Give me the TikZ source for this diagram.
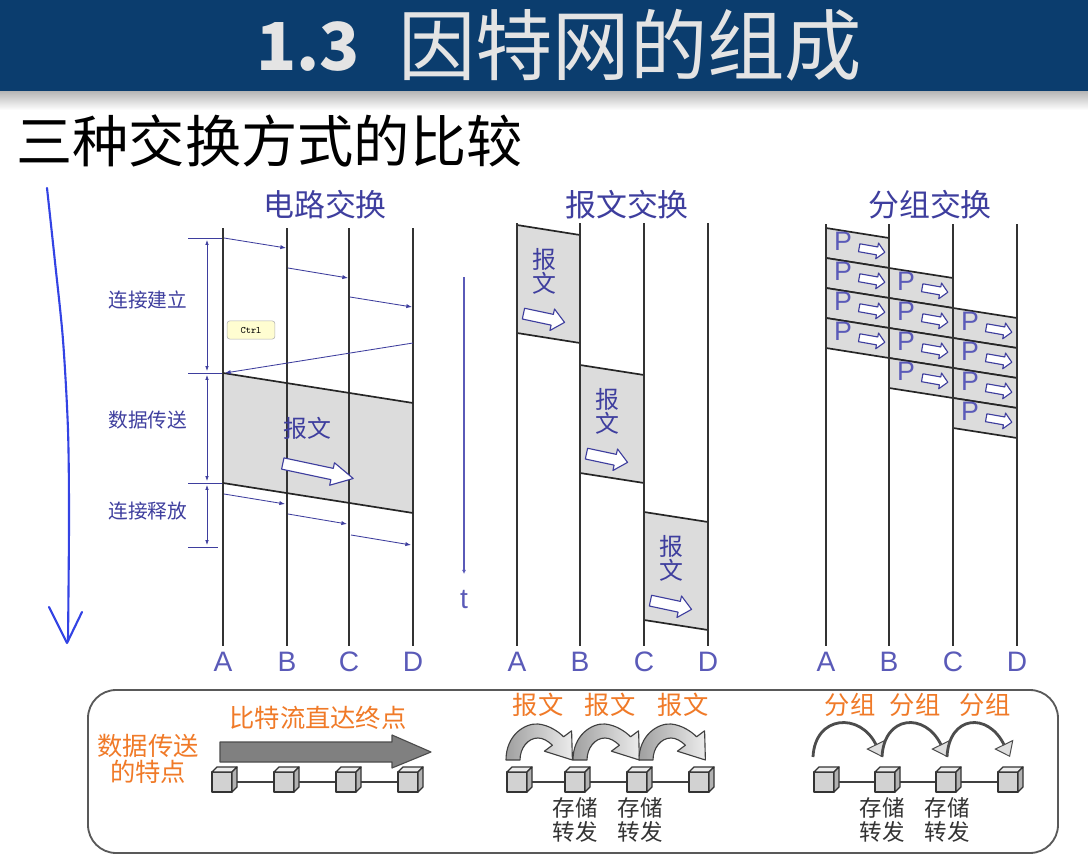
\documentclass[tikz,border=0pt]{standalone}
\usepackage{fontspec}
\setmainfont{Noto Sans CJK SC}
\newfontfamily\latinsf{Liberation Sans}
\usetikzlibrary{arrows.meta}

\definecolor{titleblue}{HTML}{0B3D6E}
\definecolor{titlegray}{HTML}{E4E4E4}
\definecolor{labelblue}{HTML}{3E3E9E}
\definecolor{letterblue}{HTML}{5A5AB8}
\definecolor{penblue}{HTML}{3343E4}
\definecolor{noteorange}{HTML}{F07A28}
\definecolor{boxgray}{HTML}{DCDCDC}

\tikzset{
  titletext/.style={text=titlegray, inner sep=0pt, font=\fontsize{55}{60}\selectfont},
  subtitle/.style={text=black, inner sep=0pt, font=\fontsize{40}{44}\selectfont},
  headline/.style={text=labelblue, font=\fontsize{22}{26}\selectfont},
  sidelabel/.style={text=labelblue, font=\fontsize{14}{17}\selectfont},
  letter/.style={text=letterblue, font=\latinsf\fontsize{20}{24}\selectfont},
  msgchar/.style={text=labelblue, align=center, font=\fontsize{17}{17}\selectfont},
  pletter/.style={text=letterblue, inner sep=0pt, font=\latinsf\fontsize{19}{20}\selectfont},
  note/.style={text=noteorange, align=center, font=\fontsize{18}{19}\selectfont},
  storelabel/.style={text=black!80, align=center, font=\fontsize{16}{17}\selectfont},
  timeline/.style={draw=black!80, line width=1.1pt},
  boxedge/.style={draw=black!85, line width=1.2pt},
  signal/.style={draw=labelblue, line width=0.6pt, -{Latex[length=4pt,width=3pt]}},
  dimline/.style={draw=labelblue, line width=0.5pt},
  dimarrow/.style={dimline, {Latex[length=3.5pt,width=2.5pt]}-{Latex[length=3.5pt,width=2.5pt]}},
  ctrlbox/.style={draw=gray!60, fill=yellow!18, rounded corners=2pt, minimum width=34pt,
    minimum height=13pt, inner sep=1pt, font=\ttfamily\fontsize{7}{8}\selectfont},
  cubelink/.style={draw=black!75, line width=0.9pt},
  pktarc/.style={draw=black!70, line width=2pt,
    -{Triangle[length=10pt,width=15pt,fill=gray!25,line width=0.7pt]}},
  harrow/.pic={
    \draw[draw=labelblue, fill=white, line width=0.8pt, line join=round]
      (-1,-0.5) -- (0.4,-0.5) -- (0.4,-1) -- (1,0) -- (0.4,1) -- (0.4,0.5) -- (-1,0.5) -- cycle;
  },
  cube/.pic={
    \draw[draw=black!80, line width=0.9pt, line join=round, fill=gray!35] (-12,-10) rectangle (8,10);
    \draw[draw=black!80, line width=0.9pt, line join=round, fill=gray!15]
      (-12,-10) -- (-7,-15) -- (13,-15) -- (8,-10) -- cycle;
    \draw[draw=black!80, line width=0.9pt, line join=round, fill=gray!60]
      (8,-10) -- (13,-15) -- (13,5) -- (8,10) -- cycle;
  },
  msgarc/.pic={
    \path[draw=black!75, line width=0.8pt, line join=round, left color=gray!75, right color=gray!15]
      (-7,0) .. controls (-7,-25) and (12,-37) .. (25,-36)
      .. controls (36,-35) and (46,-28) .. (50.6,-23.2)
      -- (58.6,-29.2) -- (59.4,0) -- (31.4,-8.8) -- (39.4,-14.8)
      .. controls (35,-19) and (30,-22) .. (25,-22)
      .. controls (15,-22) and (7,-12) .. (7,0) -- cycle;
  },
}

\begin{document}
\begin{tikzpicture}[x=0.025cm, y=-0.025cm]
\useasboundingbox (0,0) rectangle (1088,867);
\fill[white] (0,0) rectangle (1088,867);

% title bar
\fill[titleblue] (0,0) rectangle (1088,92);
\shade[top color=gray!55, bottom color=white] (0,92) rectangle (1088,110);
\node[titletext, anchor=east, font=\bfseries\fontsize{47}{52}\selectfont] (num) at (360,47) {1.3};
\node[titletext, anchor=west] (title) at (398,45) {因特网的组成};
\node[subtitle, anchor=west] (sub) at (16,141) {三种交换方式的比较};

% hand drawn time arrow
\draw[draw=penblue, line width=1.5pt, line cap=round, line join=round]
  plot[smooth] coordinates {(47,188) (55,262) (63,340) (68,430) (69,520) (68,641)};
\draw[draw=penblue, line width=1.5pt, line cap=round, line join=round]
  (49,607) -- (67,643) -- (82,612);

% circuit switching
\node[headline] (hc) at (325,205) {电路交换};
\fill[boxgray] (223,373) -- (413,403) -- (413,513) -- (223,483) -- cycle;
\foreach \x/\n in {223/A, 287/B, 349/C, 413/D} {
  \draw[timeline] (\x,228) -- (\x,646);
  \node[letter] (c\n) at (\x,662) {\n};
}
\draw[boxedge] (223,373) -- (413,403);
\draw[boxedge] (223,483) -- (413,513);
\node[msgchar] (cmsg) at (307,428) {报文};
\pic[rotate=-12, xscale=36, yscale=11.5] at (318,471) {harrow};

\draw[signal] (224,238) -- (286,248);
\draw[signal] (288,268) -- (348,278);
\draw[signal] (350,297) -- (412,307);
\draw[signal] (413,343) -- (225,373);
\draw[signal] (224,494) -- (285,504);
\draw[signal] (288,514) -- (347,524);
\draw[signal] (351,535) -- (411,545);

\foreach \y in {238, 373, 483} \draw[dimline] (188,\y) -- (222,\y);
\draw[dimline] (188,547) -- (218,547);
\draw[dimarrow] (207,240) -- (207,371);
\draw[dimarrow] (207,375) -- (207,481);
\draw[dimarrow] (207,485) -- (207,545);
\node[sidelabel] (setup) at (148,300) {连接建立};
\node[sidelabel] (data) at (148,420) {数据传送};
\node[sidelabel] (release) at (148,511) {连接释放};
\node[ctrlbox] (ctrl) at (251,330) {Ctrl};

% message switching
\node[headline] (hm) at (627,205) {报文交换};
\foreach \l/\r/\ty in {517/580/225, 580/644/365, 644/708/512} {
  \fill[boxgray] (\l,\ty) -- (\r,\ty+10) -- (\r,\ty+118) -- (\l,\ty+108) -- cycle;
  \draw[boxedge] (\l,\ty) -- (\r,\ty+10);
  \draw[boxedge] (\l,\ty+108) -- (\r,\ty+118);
  \node[msgchar] at (\l+27,\ty+46) {报\\文};
  \pic[rotate=-12, xscale=21, yscale=11] at (\l+27,\ty+93) {harrow};
}
\foreach \x/\n in {517/A, 580/B, 644/C, 708/D} {
  \draw[timeline] (\x,223) -- (\x,646);
  \node[letter] (m\n) at (\x,662) {\n};
}
\draw[draw=letterblue, line width=0.8pt, -{Latex[length=3pt,width=3pt]}] (464,277) -- (464,574);
\node[letter] (t) at (464,600) {t};

% packet switching
\node[headline] (hp) at (930,205) {分组交换};
\foreach \l/\r/\s in {826/889/228, 889/953/268, 953/1017/308} {
  \foreach \i in {0,...,3} {
    \pgfmathsetmacro\py{\s+30*\i}
    \fill[boxgray] (\l,\py) -- (\r,\py+10) -- (\r,\py+40) -- (\l,\py+30) -- cycle;
    \draw[boxedge] (\l,\py) -- (\r,\py+10);
    \draw[boxedge] (\l,\py+30) -- (\r,\py+40);
    \node[pletter] at (\l+17,\py+13) {P};
    \pic[rotate=-10, xscale=13, yscale=8] at (\l+46,\py+22) {harrow};
  }
}
\foreach \x/\n in {826/A, 889/B, 953/C, 1017/D} {
  \draw[timeline] (\x,224) -- (\x,646);
  \node[letter] (p\n) at (\x,662) {\n};
}

% bottom panel
\draw[draw=black!65, line width=1.3pt, rounded corners=20pt] (88,690) rectangle (1058,853);
\node[note] (feat) at (148,759) {数据传送\\的特点};
\node[note] (bits) at (318,718) {比特流直达终点};
\draw[draw=black!70, line width=0.8pt, fill=gray, line join=round]
  (220,742) -- (392,742) -- (392,735) -- (431,752) -- (392,768) -- (392,762) -- (220,762) -- cycle;

\foreach \x [count=\i] in {224,286,348,410} \coordinate (c\i) at (\x,782);
\foreach \x [count=\i] in {519,577,639,701} \coordinate (m\i) at (\x,782);
\foreach \x [count=\i] in {826,887,948,1010} \coordinate (p\i) at (\x,782);
\draw[cubelink] (c1) -- (c4);
\draw[cubelink] (m1) -- (m4);
\draw[cubelink] (p1) -- (p4);
\foreach \i in {1,...,4} {
  \pic at (c\i) {cube};
  \pic at (m\i) {cube};
  \pic at (p\i) {cube};
}

% store and forward arcs
\foreach \x in {513, 580, 646} \pic at (\x,760) {msgarc};
\foreach \a/\b in {813/882, 882/947, 947/1010}
  \draw[pktarc] (\a,757) .. controls (\a+2,715) and (\b-22,712) .. (\b,757);
\foreach \x in {538, 610, 683} \node[note] at (\x,705) {报文};
\foreach \x in {850, 915, 985} \node[note] at (\x,705) {分组};
\foreach \x in {575, 640, 882, 947} \node[storelabel] at (\x,820) {存储\\转发};
\end{tikzpicture}
\end{document}
